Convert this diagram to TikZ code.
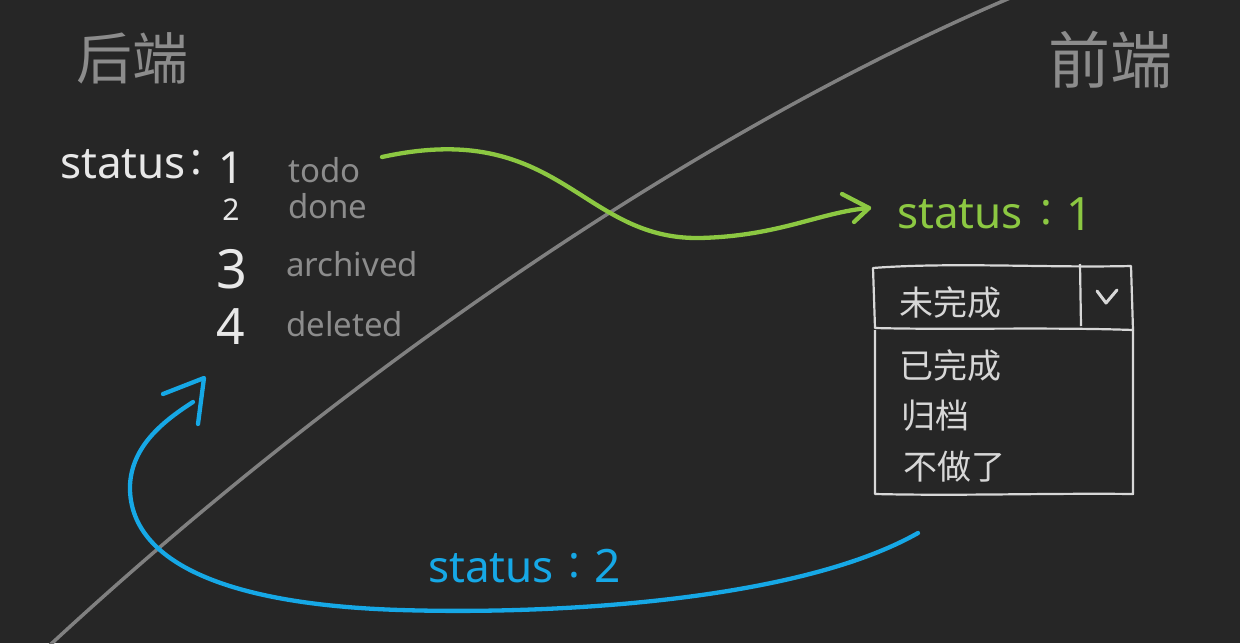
\documentclass[tikz,border=0pt]{standalone}
\usepackage{fontspec}
\setmainfont{Noto Sans}
\newfontfamily\cjk{Noto Sans CJK SC}
\definecolor{bg}{RGB}{38,38,38}
\definecolor{textw}{RGB}{232,232,232}
\definecolor{textg}{RGB}{140,140,140}
\definecolor{diag}{RGB}{128,128,128}
\definecolor{gline}{RGB}{140,200,66}
\definecolor{bline}{RGB}{22,168,230}
\definecolor{boxw}{RGB}{215,215,215}
\begin{document}
\begin{tikzpicture}[x=1pt,y=-1pt,
  wtxt/.style={text=textw,font=\fontsize{44}{46}\selectfont,inner sep=0},
  gtxt/.style={text=textg,font=\fontsize{33}{36}\selectfont,inner sep=0},
  grtxt/.style={text=gline,font=\fontsize{44}{46}\selectfont,inner sep=0},
  bltxt/.style={text=bline,font=\fontsize{44}{46}\selectfont,inner sep=0},
  title/.style={text=textg,font=\cjk\fontsize{56}{60}\selectfont,inner sep=0},
  opt/.style={text=boxw,font=\cjk\fontsize{34}{36}\selectfont,inner sep=0},
  greenline/.style={draw=gline,line width=4.3pt,line cap=round,line join=round},
  blueline/.style={draw=bline,line width=4.3pt,line cap=round,line join=round},
  boxline/.style={draw=boxw,line width=2.2pt,line join=round}]
\useasboundingbox (0,0) rectangle (1240,643);
\fill[bg] (0,0) rectangle (1240,643);
% diagonal divider
\draw[diag,line width=3.5pt] (50,645) .. controls (345,372) and (700,130) .. (1010,-2);
% titles
\node[title] (back) at (132,58) {后端};
\node[title,font=\cjk\fontsize{62}{66}\selectfont] (front) at (1110,60) {前端};
% backend list
\node[wtxt,anchor=base west] (st) at (60,178) {status};
\node[wtxt,anchor=base] (stc) at (196,174) {:};
\node[wtxt,font=\fontsize{44}{46}\selectfont,anchor=base] (n1) at (231,183) {1};
\node[wtxt,font=\fontsize{30}{32}\selectfont,anchor=base] (n2) at (231,220) {2};
\node[wtxt,font=\fontsize{54}{56}\selectfont,anchor=base] (n3) at (232,288) {3};
\node[wtxt,font=\fontsize{50}{52}\selectfont,anchor=base] (n4) at (231,344) {4};
\node[gtxt,anchor=base west] (todo) at (288,182) {todo};
\node[gtxt,anchor=base west] (done) at (288,218) {done};
\node[gtxt,anchor=base west] (arch) at (286,276) {archived};
\node[gtxt,anchor=base west] (del) at (286,336) {deleted};
% frontend green status
\node[grtxt,anchor=base west] (gst) at (897,228) {status};
\node[grtxt,anchor=base] (gstc) at (1046,224) {:};
\node[grtxt,font=\fontsize{46}{48}\selectfont,anchor=base] (gst1) at (1080,230) {1};
% dropdown
\draw[boxline] (873,268) .. controls (950,262) and (1050,268) .. (1131,266) -- (1133,330)
  .. controls (1050,327) and (950,330) .. (875,328) -- cycle;
\draw[boxline] (1080,264) -- (1081,326);
\draw[boxline,line width=3pt,line cap=round,line join=round] (1097,291) -- (1106,303) -- (1117,290);
\draw[boxline] (875,330) -- (875,494) .. controls (960,496) and (1050,493) .. (1133,494) -- (1133,330);
\node[opt] (o1) at (950,303) {未完成};
\node[opt] (o2) at (950,366) {已完成};
\node[opt] (o3) at (935,416) {归档};
\node[opt] (o4) at (954,467) {不做了};
% green connector
\coordinate (gs) at (382,157);
\coordinate (gtip) at (869,208);
\draw[greenline] (gs) .. controls (560,118) and (580,240) .. (700,238)
  .. controls (780,236) and (820,212) .. (gtip);
\draw[greenline] ([shift={(-27,-14)}]gtip) -- (gtip) -- ([shift={(-15,14)}]gtip);
% blue connector
\coordinate (bs) at (918,533);
\coordinate (btip) at (204,378);
\draw[blueline] (bs) .. controls (800,600) and (560,615) .. (400,610)
  .. controls (210,604) and (128,555) .. (130,485)
  .. controls (132,445) and (165,420) .. (193,402);
\draw[blueline] ([shift={(-41,16)}]btip) -- (btip) -- ([shift={(-6,46)}]btip);
\node[bltxt,anchor=base west] (bst) at (428,582) {status};
\node[bltxt,anchor=base] (bstc) at (574,577) {:};
\node[bltxt,font=\fontsize{46}{48}\selectfont,anchor=base] (bst2) at (608,582) {2};
\end{tikzpicture}
\end{document}
